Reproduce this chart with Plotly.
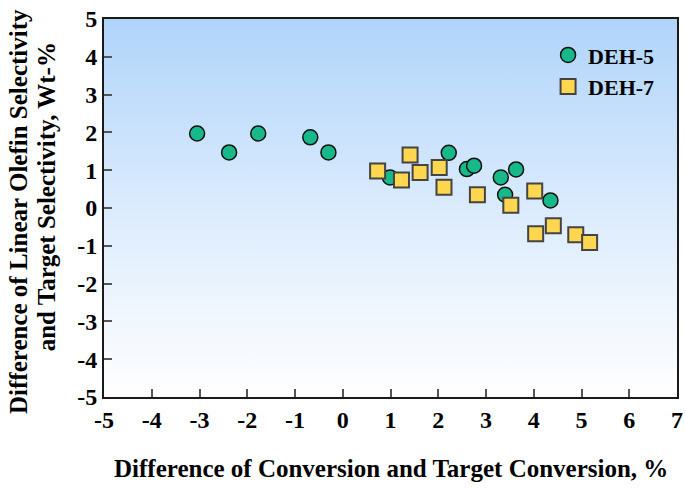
import plotly.graph_objects as go

# DEH-5 (green circles)
deh5_x = [-3.05, -2.38, -1.77, -0.68, -0.30, 0.99, 2.22, 2.60, 2.75, 3.31, 3.63, 3.40, 4.35]
deh5_y = [1.97, 1.47, 1.97, 1.87, 1.47, 0.81, 1.46, 1.03, 1.12, 0.81, 1.02, 0.35, 0.20]

# DEH-7 (yellow squares)
deh7_x = [0.73, 1.23, 1.41, 1.62, 2.02, 2.12, 2.82, 3.52, 4.02, 4.04, 4.41, 4.88, 5.17]
deh7_y = [0.98, 0.74, 1.40, 0.94, 1.07, 0.55, 0.35, 0.07, 0.45, -0.68, -0.47, -0.71, -0.91]

x_ticks = [-5, -4, -3, -2, -1, 0, 1, 2, 3, 4, 5, 6, 7]
y_ticks = [-5, -4, -3, -2, -1, 0, 1, 2, 3, 4, 5]
x_range = [-5, 7]
y_range = [-5, 5]

FONT = "Liberation Serif"

fig = go.Figure()

# gradient background of the plot area
fig.add_trace(go.Scatter(
    x=[x_range[0], x_range[1], x_range[1], x_range[0], x_range[0]],
    y=[y_range[0], y_range[0], y_range[1], y_range[1], y_range[0]],
    mode="none", fill="toself",
    fillgradient=dict(type="vertical", start=y_range[0], stop=y_range[1],
                      colorscale=[[0, "#ffffff"], [0.5, "#dbebfd"], [1, "#b0d4fa"]]),
    showlegend=False, hoverinfo="skip",
))

fig.add_trace(go.Scatter(
    x=deh5_x, y=deh5_y, mode="markers", name="DEH-5",
    marker=dict(symbol="circle", size=15, color="#17b98a",
                line=dict(color="#111111", width=1.5)),
))
fig.add_trace(go.Scatter(
    x=deh7_x, y=deh7_y, mode="markers", name="DEH-7",
    marker=dict(symbol="square", size=15, color="#ffd650",
                line=dict(color="#444444", width=2)),
))

tick_font = dict(family=FONT, size=24, color="black", weight="bold")

fig.update_xaxes(
    range=x_range, tickmode="array", tickvals=x_ticks,
    ticktext=[str(v) for v in x_ticks],
    ticks="inside", ticklen=8, tickwidth=1.5, tickcolor="#555555",
    showline=True, linecolor="#1a1a1a", linewidth=2, mirror=True,
    showgrid=False, zeroline=False, tickfont=tick_font,
    ticklabeloverflow="allow", automargin=False,
)
fig.update_yaxes(
    range=y_range, tickmode="array", tickvals=y_ticks,
    ticktext=[str(v) for v in y_ticks],
    ticks="inside", ticklen=8, tickwidth=1.5, tickcolor="#555555",
    showline=True, linecolor="#1a1a1a", linewidth=2, mirror=True,
    showgrid=False, zeroline=True, zerolinecolor="#222222", zerolinewidth=1.5,
    tickfont=tick_font, ticklabeloverflow="allow", automargin=False,
)

title_font = dict(family=FONT, size=25, color="black", weight="bold")

fig.add_annotation(
    text="Difference of Conversion and Target Conversion, %",
    xref="paper", yref="paper", x=0.5, y=-0.188, xanchor="center", yanchor="middle",
    showarrow=False, font=title_font,
)
fig.add_annotation(
    text="Difference of Linear Olefin Selectivity",
    xref="paper", yref="paper", x=-0.148, y=0.49, xanchor="center", yanchor="middle",
    textangle=-90, showarrow=False, font=title_font,
)
fig.add_annotation(
    text="and Target Selectivity, Wt-%",
    xref="paper", yref="paper", x=-0.1, y=0.53, xanchor="center", yanchor="middle",
    textangle=-90, showarrow=False, font=title_font,
)

fig.update_layout(
    width=685, height=488,
    margin=dict(l=104, r=8, t=19, b=91),
    paper_bgcolor="white", plot_bgcolor="white",
    showlegend=True,
    legend=dict(x=0.775, y=0.96, xanchor="left", yanchor="top",
                bgcolor="rgba(0,0,0,0)", borderwidth=0, itemwidth=30,
                font=dict(family=FONT, size=22, color="black", weight="bold"),
                tracegroupgap=0),
)

# remove the default 8px page margin so the figure fills the window exactly
fig.write_html(
    "out.html",
    config={"displayModeBar": False},
    post_script="document.body.style.margin='0';document.body.style.overflow='hidden';",
)
